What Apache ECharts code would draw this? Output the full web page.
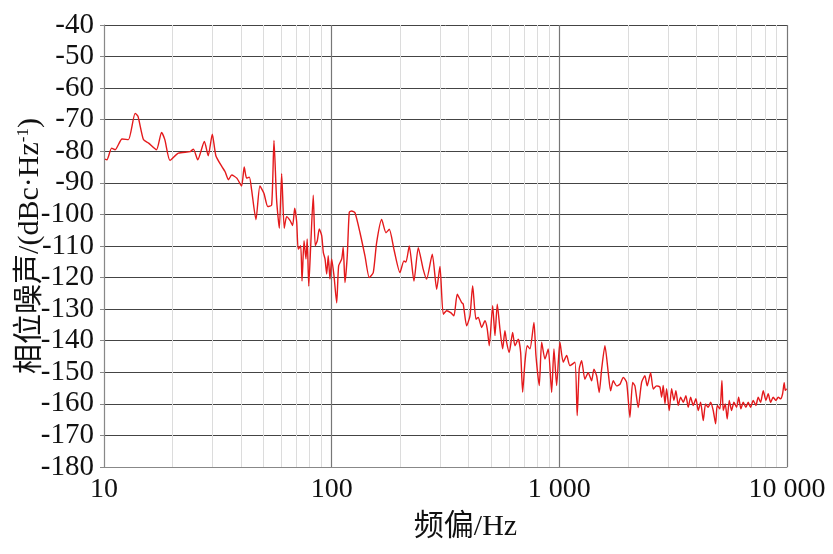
<!DOCTYPE html>
<html>
<head>
<meta charset="utf-8">
<script src="https://cdn.jsdelivr.net/npm/echarts@6/dist/echarts.min.js"></script>
<style>
  html, body { margin: 0; padding: 0; background: #fff; }
  #main { width: 833px; height: 554px; }
</style>
</head>
<body>
<div id="main"></div>
<script>
// 频偏 (Hz) and 相位噪声 (dBc/Hz)
const freqs = [
  10.1, 10.3, 10.8, 11.2, 12.0, 12.8, 13.7, 14.1, 14.9, 15.7,
  17.0, 17.9, 18.5, 19.5, 21.2, 23.9, 24.7, 25.8, 27.6, 28.7,
  29.9, 31.0, 32.9, 34.0, 35.2, 36.4, 38.3, 40.2, 41.3, 42.3,
  43.5, 44.5, 46.5, 48.4, 50.4, 52.4, 54.5, 55.8, 57.3, 58.9,
  60.3, 61.9, 63.4,
  65.6, 67.4, 68.8, 70.2, 71.3, 73.1, 74.1, 75.6, 77.1, 78.1,
  79.3, 80.9, 83.0, 84.7, 86.5, 88.2, 90.4, 91.9, 93.5, 95.1,
  96.6, 98.3, 100, 102.4, 105.2, 107.3, 110.7, 112.4, 114.4, 117.1,
  119.5,
  122.4, 126.6, 133.2, 140.1, 146.3, 152.3, 157.6, 165.8, 173.2, 179.1,
  187.8, 199.5, 207.7, 212.0, 219.2, 229.9, 240.1, 252.5, 261.3, 276.6,
  289.2, 299.0, 309.1, 319.9, 333.1, 344.4, 356.1, 372.3, 378.4, 391.6,
  405.0, 416.2, 430.3, 440.5, 455.9, 471.3, 482.4, 492.3, 509.5, 521.5,
  533.8, 548.5, 563.6, 576.9, 586.8, 602.6, 623.6, 638.3, 659.9, 676.1,
  690.0, 706.3, 722.8, 743.0, 773.6, 789.4, 816.3, 836.3, 864.7, 894.0,
  925.2, 947.0, 973.0, 1006, 1040, 1077, 1113, 1171, 1198, 1223,
  1253, 1295, 1339, 1386, 1419, 1458, 1497, 1534, 1586, 1640,
  1680, 1725, 1785, 1846, 1909, 1975, 2042, 2099, 2148, 2221,
  2298, 2376, 2432, 2518, 2585, 2675,
  2766, 2813, 2860, 2910, 2959, 3038, 3113, 3187, 3252, 3329,
  3410, 3500, 3597, 3682, 3773, 3874, 3981, 4074, 4175, 4286,
  4389, 4506, 4618, 4742, 4858, 4937, 5074, 5178, 5247, 5354,
  5463, 5575, 5711, 5846, 6008, 6131, 6275, 6423, 6599, 6754,
  6920, 7105, 7301, 7473, 7658, 7862, 8079, 8269, 8472, 8698,
  8939, 9148, 9373, 9565, 9720, 9820, 9960
];
const noise = [
  -82.5, -82.7, -79.0, -79.5, -76.1, -76.3, -68.0, -68.9, -76.3, -77.4,
  -79.5, -74.0, -76.3, -82.9, -80.6, -80.1, -79.3, -82.7, -76.9, -81.4,
  -74.6, -81.4, -84.8, -86.4, -89.0, -87.5, -88.5, -91.0, -85.0, -88.5,
  -88.2, -92.2, -101.7, -91.0, -93.3, -97.5, -97.0, -76.6, -95.4, -104.4,
  -87.1, -104.4, -100.7,
  -101.9, -103.5, -98.0, -102.4, -111.0, -109.9, -121.1, -108.3, -114.1, -107.8,
  -122.7, -109.9, -93.9, -109.9, -108.3, -104.6, -106.7, -112.0, -114.1, -118.9,
  -113.1, -120.5, -114.1, -119.5, -128.0, -116.3, -114.1, -110.4, -121.6, -113.1,
  -99.3,
  -98.9, -99.5, -105.8, -113.2, -120.0, -118.4, -108.9, -101.6, -105.8, -104.7,
  -111.1, -118.4, -114.7, -115.1, -110.0, -121.1, -110.5, -117.4, -120.5, -112.6,
  -123.7, -116.5, -131.6, -130.5, -131.1, -132.1, -125.3, -127.9, -128.4, -135.3,
  -132.1, -122.6, -133.2, -132.6, -135.8, -133.7, -136.3, -141.6, -128.9, -138.4,
  -128.4, -136.3, -142.6, -136.8, -140.5, -143.7, -137.4, -141.6, -139.5, -143.7,
  -156.3, -146.8, -141.6, -142.6, -134.2, -144.7, -154.2, -140.5, -145.8, -142.6,
  -156.3, -142.6, -154.2, -140.5, -146.8, -144.7, -147.9, -146.8, -163.7, -148.9,
  -146.3, -152.2, -150.1, -152.7, -149.0, -151.1, -156.4, -149.0, -141.6, -150.1,
  -155.9, -152.7, -154.3, -153.8, -151.6, -153.2, -164.3, -153.2, -154.3, -161.2,
  -153.2, -151.1, -154.3, -150.1, -155.3, -154.3,
  -154.7, -157.9, -154.2, -160.0, -155.2, -162.1, -155.2, -158.9, -155.8, -160.5,
  -157.9, -159.5, -157.4, -161.1, -157.9, -160.5, -158.4, -162.1, -159.5, -165.3,
  -160.0, -161.1, -159.5, -162.1, -166.3, -160.5, -161.6, -152.6, -162.1, -160.0,
  -164.8, -158.9, -162.1, -159.5, -161.1, -157.9, -161.6, -159.5, -161.1, -159.5,
  -161.1, -158.9, -160.5, -157.9, -159.5, -155.8, -158.9, -156.8, -159.5, -157.9,
  -158.9, -157.9, -158.4, -156.8, -153.3, -155.7, -155.2
];
// light vertical grid lines inside each decade
const minorFreqs = [20, 30, 40, 50, 60, 70, 80, 90,
  200, 300, 400, 500, 600, 700, 800, 900,
  2000, 3000, 4000, 5000, 6000, 7000, 8000, 9000];

const FONT = '"Liberation Serif", "Noto Sans CJK SC", serif';

const lineData = freqs.map((f, i) => [f, noise[i]]);

function spaced(v) {
  return String(Math.round(v)).replace(/\B(?=(\d{3})+(?!\d))/g, ' ');
}

const chart = echarts.init(document.getElementById('main'));
chart.setOption({
  animation: false,
  grid: { left: 104, right: 46, top: 25, bottom: 87, containLabel: false, outerBoundsMode: 'none' },
  xAxis: {
    type: 'log',
    logBase: 10,
    min: 10,
    max: 10000,
    name: '频偏/Hz',
    nameLocation: 'middle',
    nameGap: 45,
    nameMoveOverlap: false,
    nameTextStyle: { fontFamily: FONT, fontSize: 30, color: '#111', padding: [0, 0, 0, 40] },
    axisLine: { show: true, lineStyle: { color: '#888', width: 1 } },
    axisTick: { show: false },
    axisLabel: { fontFamily: FONT, fontSize: 28, color: '#111', margin: 9, formatter: spaced },
    splitLine: { show: true, lineStyle: { color: '#777', width: 1.2 } }
  },
  yAxis: {
    type: 'value',
    min: -180,
    max: -40,
    interval: 10,
    name: '{a|相位噪声/(dBc·Hz}{s|-1}{a|)}',
    nameLocation: 'middle',
    nameRotate: 90,
    nameGap: 58,
    nameMoveOverlap: false,
    nameTextStyle: {
      rich: {
        a: { fontFamily: FONT, fontSize: 30, color: '#111' },
        s: { fontFamily: FONT, fontSize: 17, color: '#111', padding: [0, 0, 14, 0] }
      }
    },
    axisLine: { show: true, lineStyle: { color: '#888', width: 1 } },
    axisTick: { show: true, length: 4, lineStyle: { color: '#888' } },
    axisLabel: { fontFamily: FONT, fontSize: 29, color: '#111', margin: 10 },
    splitLine: { show: true, lineStyle: { color: '#444', width: 1 } }
  },
  series: [
    {
      type: 'line',
      data: [],
      silent: true,
      markLine: {
        silent: true,
        symbol: 'none',
        label: { show: false },
        lineStyle: { color: '#dcdcdc', width: 1, type: 'solid' },
        data: minorFreqs.map(f => ({ xAxis: f }))
      }
    },
    {
      name: '相位噪声',
      type: 'line',
      data: lineData,
      showSymbol: false,
      symbol: 'none',
      smooth: 0.2,
      lineStyle: { color: '#e41a1c', width: 1.4 },
      z: 5
    }
  ]
});
</script>
</body>
</html>
